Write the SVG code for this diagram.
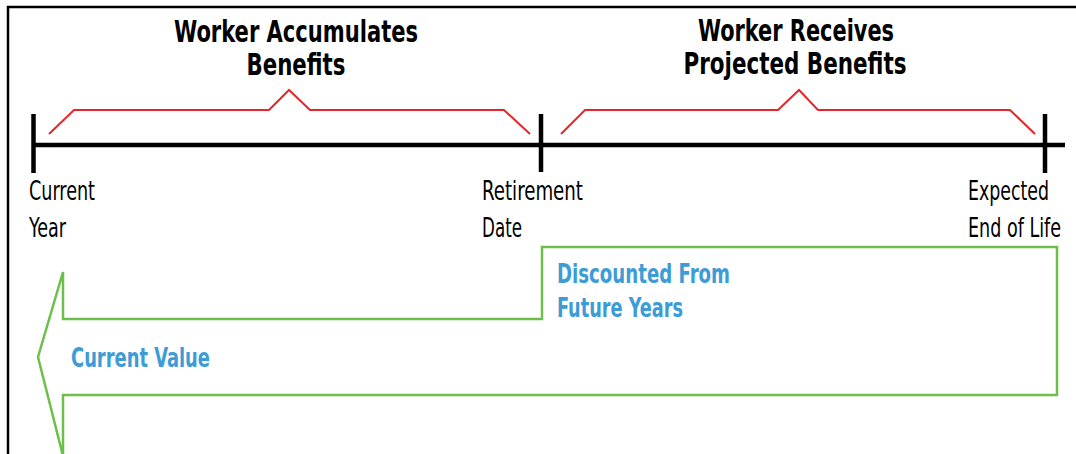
<svg xmlns="http://www.w3.org/2000/svg" width="1076" height="454" viewBox="0 0 1076 454">
<style>
.head{font-family:"Liberation Sans Narrow","DejaVu Sans Condensed","Liberation Sans",sans-serif;font-weight:bold;font-size:30px;fill:#000;text-anchor:middle}
.lbl{font-family:"Liberation Sans Narrow","DejaVu Sans Condensed","Liberation Sans",sans-serif;font-size:27px;fill:#000}
.end{text-anchor:end}
.blue{font-family:"Liberation Sans Narrow","DejaVu Sans Condensed","Liberation Sans",sans-serif;font-weight:bold;font-size:27px;fill:#3d9bd6}
.red{fill:none;stroke:#e8262a;stroke-width:2}
.tl{stroke:#000;stroke-width:4.5;fill:none}
</style>
<rect width="1076" height="454" fill="#fff"/>
<path d="M8,454 L8,7 L1076,7" fill="none" stroke="#000" stroke-width="2.5"/>
<g id="headings">
<text class="head" x="296" y="42" textLength="244" lengthAdjust="spacingAndGlyphs">Worker Accumulates</text>
<text class="head" x="296" y="75" textLength="99" lengthAdjust="spacingAndGlyphs">Benefits</text>
<text class="head" x="796" y="41" textLength="196" lengthAdjust="spacingAndGlyphs">Worker Receives</text>
<text class="head" x="795" y="74" textLength="223" lengthAdjust="spacingAndGlyphs">Projected Benefits</text>
</g>
<g id="braces">
<polyline class="red" points="49,134 74,110 269,110 289,90 310,110 504,110 530,134"/>
<polyline class="red" points="561,134 585,110 778,110 799,90 818,110 1010,110 1035,134"/>
</g>
<g id="timeline">
<line class="tl" x1="33" y1="145" x2="1065" y2="145"/>
<line class="tl" x1="33.5" y1="114" x2="33.5" y2="173"/>
<line class="tl" x1="541" y1="114" x2="541" y2="172"/>
<line class="tl" x1="1045" y1="114" x2="1045" y2="173"/>
</g>
<g id="labels">
<text class="lbl" x="29" y="200" textLength="66" lengthAdjust="spacingAndGlyphs">Current</text>
<text class="lbl" x="29" y="237" textLength="37" lengthAdjust="spacingAndGlyphs">Year</text>
<text class="lbl" x="482" y="200" textLength="101" lengthAdjust="spacingAndGlyphs">Retirement</text>
<text class="lbl" x="482" y="237" textLength="40" lengthAdjust="spacingAndGlyphs">Date</text>
<text class="lbl end" x="1049" y="200" textLength="81" lengthAdjust="spacingAndGlyphs">Expected</text>
<text class="lbl end" x="1061" y="237" textLength="93" lengthAdjust="spacingAndGlyphs">End of Life</text>
</g>
<g id="arrow">
<path d="M63,456 L38,357 L63,272 L63,319 L542,319 L542,247 L1057,247 L1057,395 L63,395 L63,456" fill="none" stroke="#6cc04a" stroke-width="2.5"/>
<text class="blue" x="557" y="283" textLength="173" lengthAdjust="spacingAndGlyphs">Discounted From</text>
<text class="blue" x="557" y="317" textLength="126" lengthAdjust="spacingAndGlyphs">Future Years</text>
<text class="blue" x="71" y="367" textLength="139" lengthAdjust="spacingAndGlyphs">Current Value</text>
</g>
</svg>
